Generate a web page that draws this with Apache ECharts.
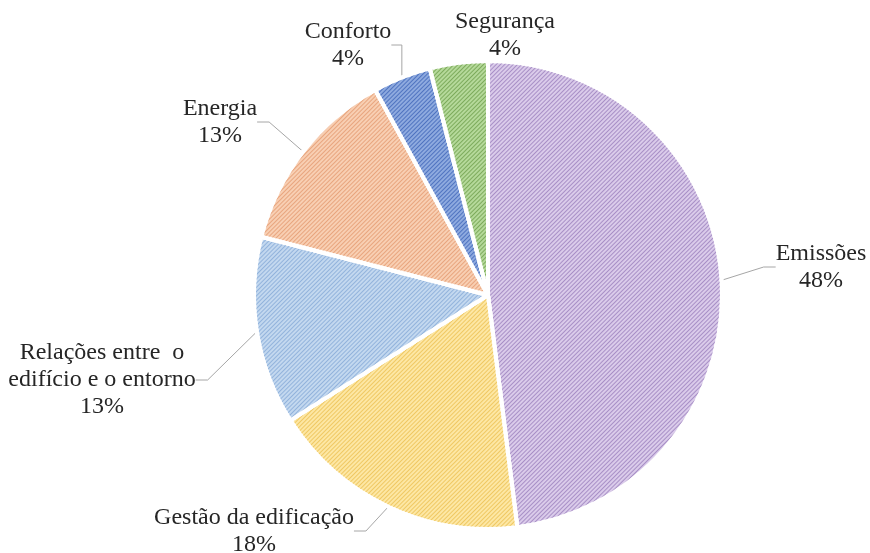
<!DOCTYPE html>
<html>
<head>
<meta charset="utf-8">
<script src="https://cdn.jsdelivr.net/npm/echarts@6/dist/echarts.min.js"></script>
<style>
  html, body { margin: 0; padding: 0; background: #ffffff; }
  #chart { width: 870px; height: 553px; }
</style>
</head>
<body>
<div id="chart"></div>
<script>
// Categories and their shares (%), clockwise from 12 o'clock
const categories = ['Emissões', 'Gestão da edificação', 'Relações entre  o\nedifício e o entorno', 'Energia', 'Conforto', 'Segurança'];
const shares = [48, 18, 13, 13, 4, 4];

// Fill and hatch colours per slice
const fills = ['#dacbea', '#fde7a4', '#c3d8ef', '#f8cfb3', '#8eaadf', '#b5d99a'];
const hatches = ['#a88fc6', '#efc863', '#92b3dc', '#e8a57e', '#4f73c0', '#7dab5c'];

// Label block centres, one per slice
const labelPos = [[821, 267], [254, 531], [102, 380], [220, 122], [348, 45], [505, 35]];

const chart = echarts.init(document.getElementById('chart'), null, { renderer: 'canvas' });

const data = categories.map((name, i) => ({
  name: name,
  value: shares[i],
  labelLine: { show: i !== 5 },
  itemStyle: {
    color: fills[i],
    decal: {
      symbol: 'rect',
      symbolSize: 1,
      dashArrayX: [1, 0],
      dashArrayY: [1, 2],
      rotation: -Math.PI / 4,
      color: hatches[i]
    }
  }
}));

chart.setOption({
  backgroundColor: '#ffffff',
  animation: false,
  series: [{
    type: 'pie',
    center: [488, 295],
    radius: 234,
    startAngle: 90,
    clockwise: true,
    emphasis: { disabled: true },
    itemStyle: { borderColor: '#ffffff', borderWidth: 4 },
    label: {
      show: true,
      position: 'outside',
      formatter: p => p.name + '\n' + p.value + '%',
      fontFamily: '"Liberation Serif", "Times New Roman", serif',
      fontSize: 24,
      lineHeight: 27,
      color: '#262626',
      align: 'center'
    },
    labelLine: {
      show: true,
      length: 20,
      length2: 12,
      lineStyle: { color: '#a6a6a6', width: 1 }
    },
    labelLayout: p => ({
      x: labelPos[p.dataIndex][0],
      y: labelPos[p.dataIndex][1],
      align: 'center',
      verticalAlign: 'middle'
    }),
    data: data
  }]
});
</script>
</body>
</html>
